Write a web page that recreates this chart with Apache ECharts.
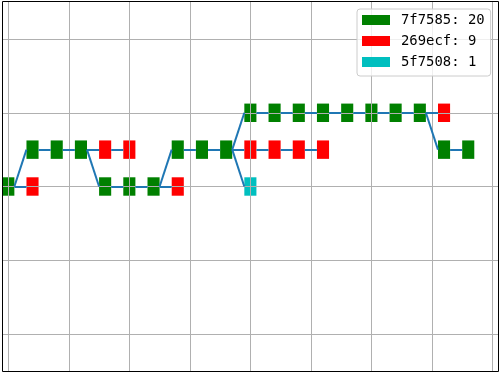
<!DOCTYPE html>
<html>
<head>
<meta charset="utf-8">
<script src="https://cdn.jsdelivr.net/npm/echarts@6/dist/echarts.min.js"></script>
<style>html,body{margin:0;padding:0;background:#fff;}#c{width:501px;height:373px;}</style>
</head>
<body>
<div id="c"></div>
<script>
// Categories (legend labels) and colours
const categories = ['7f7585', '269ecf', '5f7508'];
const catColors = ['#008000', '#ff0000', '#00bfbf'];

// Nodes: position index, level, category index, parent node (-1 = root)
const nodeX      = [0, 1, 1, 2, 3, 4, 5, 4, 5, 6, 7, 7, 8, 9, 10, 10, 10, 11, 12, 13, 11, 12, 13, 14, 15, 16, 17, 18, 18, 19];
const nodeLevel  = [0, 0, 1, 1, 1, 1, 1, 0, 0, 0, 0, 1, 1, 1, 2, 1, 0, 1, 1, 1, 2, 2, 2, 2, 2, 2, 2, 2, 1, 1];
const nodeCat    = [0, 1, 0, 0, 0, 1, 1, 0, 0, 0, 1, 0, 0, 0, 0, 1, 2, 1, 1, 1, 0, 0, 0, 0, 0, 0, 0, 1, 0, 0];
const nodeParent = [-1, 0, 0, 2, 3, 4, 5, 4, 7, 8, 9, 9, 11, 12, 13, 13, 13, 15, 17, 18, 14, 20, 21, 22, 23, 24, 25, 26, 26, 28];

// Grid-line positions (tick values)
const xTicks = [0, 2.5, 5, 7.5, 10, 12.5, 15, 17.5, 20];
const yTicks = [-4, -2, 0, 2, 4];
const xMin = -0.24, xMax = 20.25;
const yMin = -5.02, yMax = 5.02;

const HALF = 0.25;

const counts = categories.map((c, ci) => nodeCat.filter(v => v === ci).length);
const names = categories.map((c, ci) => c + ': ' + counts[ci]);

const rectSeries = categories.map((c, ci) => ({
  type: 'custom',
  name: names[ci],
  z: 1,
  itemStyle: { color: catColors[ci] },
  data: nodeX.map((x, i) => [x, nodeLevel[i], nodeCat[i]]).filter(d => d[2] === ci),
  encode: { x: 0, y: 1 },
  renderItem: function (params, api) {
    const x = api.value(0), y = api.value(1);
    const p = api.coord([x - HALF, y + HALF]);
    const s = api.size([2 * HALF, 2 * HALF]);
    return {
      type: 'rect',
      shape: { x: p[0], y: p[1], width: s[0], height: s[1] },
      style: { fill: catColors[ci] }
    };
  }
}));

const segs = [];
nodeParent.forEach((p, i) => {
  if (p < 0) return;
  segs.push({ coords: [[nodeX[p] + HALF, nodeLevel[p]], [nodeX[i] - HALF, nodeLevel[i]]] });
});

const chart = echarts.init(document.getElementById('c'), null, { renderer: 'canvas' });
chart.setOption({
  animation: false,
  backgroundColor: '#fff',
  grid: { left: 2.5, right: 2.5, top: 1.5, bottom: 1.5, containLabel: false },
  xAxis: {
    type: 'value', min: xMin, max: xMax, z: 2,
    axisLine: { show: false },
    axisTick: { show: false, customValues: xTicks },
    axisLabel: { show: false, customValues: xTicks },
    splitLine: { show: true, lineStyle: { color: '#b0b0b0', width: 1 } }
  },
  yAxis: {
    type: 'value', min: yMin, max: yMax, z: 2,
    axisLine: { show: false },
    axisTick: { show: false, customValues: yTicks },
    axisLabel: { show: false, customValues: yTicks },
    splitLine: { show: true, lineStyle: { color: '#b0b0b0', width: 1 } }
  },
  legend: {
    left: 357, top: 9, orient: 'vertical', z: 10,
    selectedMode: false,
    icon: 'rect', itemWidth: 28, itemHeight: 10, itemGap: 7,
    padding: [4, 6, 7, 5],
    backgroundColor: 'rgba(255,255,255,0.8)',
    borderColor: '#cccccc', borderWidth: 1, borderRadius: 3,
    textStyle: { fontFamily: 'DejaVu Sans Mono', fontSize: 13.9, color: '#000', padding: [0, 0, 0, 6] },
    data: names
  },
  series: rectSeries.concat([{
    type: 'lines',
    coordinateSystem: 'cartesian2d',
    z: 3,
    silent: true,
    lineStyle: { color: '#1f77b4', width: 2, opacity: 1 },
    data: segs
  }]),
  graphic: [{
    type: 'rect', z: 100, silent: true,
    shape: { x: 2.5, y: 1.5, width: 496, height: 370 },
    style: { fill: null, stroke: '#000', lineWidth: 1 }
  }]
});
</script>
</body>
</html>
